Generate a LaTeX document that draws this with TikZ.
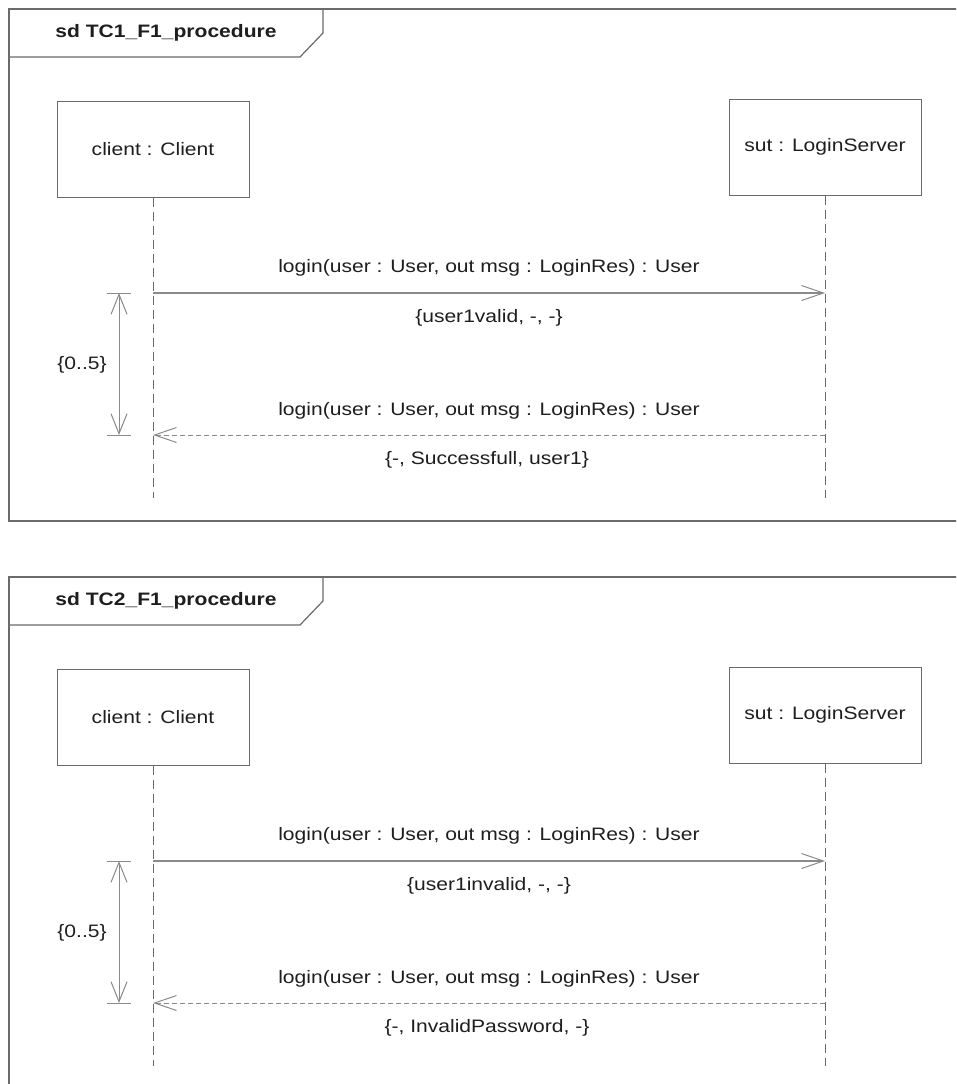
\documentclass[tikz,border=0pt]{standalone}
\usepackage{fontspec}
\setmainfont{Liberation Sans}[FakeStretch=1.17]
\usetikzlibrary{arrows.meta}
\definecolor{framegray}{HTML}{6A6A6A}
\definecolor{linegray}{HTML}{8A8A8A}
\definecolor{txt}{HTML}{1E1E1E}
\tikzset{
  lifebox/.style={draw=framegray, line width=1pt, minimum width=192pt, minimum height=96pt, inner sep=0pt, text=txt, font=\fontsize{18}{20}\selectfont},
  lifeline/.style={draw=framegray, line width=0.9pt, dash pattern=on 9pt off 5pt},
  msgline/.style={draw=linegray, line width=1.1pt, -{Straight Barb[length=22pt, width=15pt, line width=1pt]}},
  retline/.style={draw=linegray, line width=1pt, dash pattern=on 5pt off 3pt, -{Straight Barb[length=22pt, width=15pt, line width=1pt]}},
  durline/.style={draw=linegray, line width=1pt, {Straight Barb[length=20pt, width=16pt, line width=1pt]}-{Straight Barb[length=20pt, width=16pt, line width=1pt]}},
  tick/.style={draw=linegray, line width=1pt},
  framebox/.style={draw=framegray, line width=1.2pt},
  lbl/.style={text=txt, font=\fontsize{18}{20}\selectfont, inner sep=0pt},
  ttl/.style={text=txt, font=\fontsize{18}{20}\selectfont\bfseries, inner sep=0pt}
}
\newcommand{\sdDiagram}[5]{%
  % #1 suffix, #2 y offset, #3 title, #4 call values, #5 return values
  \begin{scope}[shift={(0,#2)}]
    \draw[framebox] (1000,9) -- (9,9) -- (9,521) -- (1000,521);
    \draw[framebox] (9,57) -- (300,57) -- (323,33) -- (323,9);
    \node[ttl] (title#1) at (166,33) {#3};
    \node[lifebox] (client#1) at (153,149) {client : Client};
    \node[lifebox] (sut#1) at (825,147) {sut : LoginServer};
    \coordinate (cend#1) at (153,498);
    \coordinate (send#1) at (825,498);
    \draw[lifeline] (client#1.south) -- (cend#1);
    \draw[lifeline] (sut#1.south) -- (send#1);
    \coordinate (cm#1) at (153,293);
    \coordinate (sm#1) at (825,293);
    \coordinate (cr#1) at (153,435);
    \coordinate (sr#1) at (825,435);
    \draw[msgline] (cm#1) -- (sm#1);
    \draw[retline] (sr#1) -- (cr#1);
    \node[lbl] (call#1) at (489,268) {login(user : User, out msg : LoginRes) : User};
    \node[lbl] (callv#1) at (489,318) {#4};
    \node[lbl] (ret#1) at (489,411) {login(user : User, out msg : LoginRes) : User};
    \node[lbl] (retv#1) at (487,460) {#5};
    \coordinate (dt#1) at (119,293);
    \coordinate (db#1) at (119,435);
    \draw[tick] (107,293) -- (131,293);
    \draw[tick] (107,435) -- (131,435);
    \draw[durline] (dt#1) -- (db#1);
    \node[lbl] (dur#1) at (82,365) {\{0..5\}};
  \end{scope}
}
\begin{document}
\begin{tikzpicture}[x=1pt, y=-1pt]
  \useasboundingbox (0,0) rectangle (956,1084);
  \clip (0,0) rectangle (956,1084);
  \fill[white] (0,0) rectangle (956,1084);
  \sdDiagram{a}{0}{sd TC1\_F1\_procedure}{\{user1valid, -, -\}}{\{-, Successfull, user1\}}
  \sdDiagram{b}{568}{sd TC2\_F1\_procedure}{\{user1invalid, -, -\}}{\{-, InvalidPassword, -\}}
\end{tikzpicture}
\end{document}
